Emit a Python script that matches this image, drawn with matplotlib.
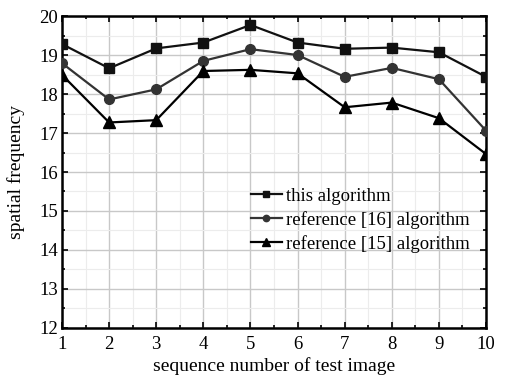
import matplotlib
matplotlib.use("Agg")
import matplotlib.pyplot as plt
from matplotlib.ticker import MultipleLocator

x = [1, 2, 3, 4, 5, 6, 7, 8, 9, 10]
this_alg = [19.28, 18.66, 19.17, 19.32, 19.77, 19.32, 19.16, 19.19, 19.07, 18.44]
ref16 = [18.79, 17.86, 18.12, 18.85, 19.15, 19.0, 18.44, 18.67, 18.38, 17.06]
ref15 = [18.49, 17.27, 17.33, 18.59, 18.62, 18.53, 17.66, 17.78, 17.38, 16.46]
labels = ["this algorithm", "reference [16] algorithm", "reference [15] algorithm"]

plt.rcParams['font.family'] = ['Liberation Serif', 'DejaVu Serif']
fig = plt.figure(figsize=(5.1, 3.76), dpi=100)
ax = fig.add_axes([0.1216, 0.1277, 0.8314, 0.8297])

ax.plot(x, this_alg, color='#111111', lw=1.6, marker='s', ms=7, label=labels[0], zorder=3)
ax.plot(x, ref16, color='#333333', lw=1.6, marker='o', ms=7, label=labels[1], zorder=3)
ax.plot(x, ref15, color='#000000', lw=1.6, marker='^', ms=9, label=labels[2], zorder=3)

ax.set_xlim(1, 10)
ax.set_ylim(12, 20)
ax.xaxis.set_major_locator(MultipleLocator(1))
ax.yaxis.set_major_locator(MultipleLocator(1))
ax.xaxis.set_minor_locator(MultipleLocator(0.5))
ax.yaxis.set_minor_locator(MultipleLocator(0.5))
ax.grid(which='major', color='#c8c8c8', lw=1.0)
ax.grid(which='minor', color='#ececec', lw=0.8)
ax.set_axisbelow(True)
ax.tick_params(which='both', direction='in', top=True, right=True, labelsize=13.5, width=1.2)
ax.tick_params(axis='x', pad=6)
ax.tick_params(axis='y', pad=3)
ax.tick_params(which='major', length=4)
ax.tick_params(which='minor', length=2.5)
for s in ax.spines.values():
    s.set_linewidth(1.8)
ax.set_xlabel("sequence number of test image", fontsize=14, labelpad=3)
ax.set_ylabel("spatial frequency", fontsize=14, labelpad=10)
ax.legend(loc='center left', bbox_to_anchor=(0.445, 0.345), frameon=False, fontsize=13.5,
          handlelength=1.65, handletextpad=0.25, labelspacing=0.32, borderaxespad=0.0,
          borderpad=0.0, markerscale=0.65)
fig.savefig("out.png", dpi=100)
